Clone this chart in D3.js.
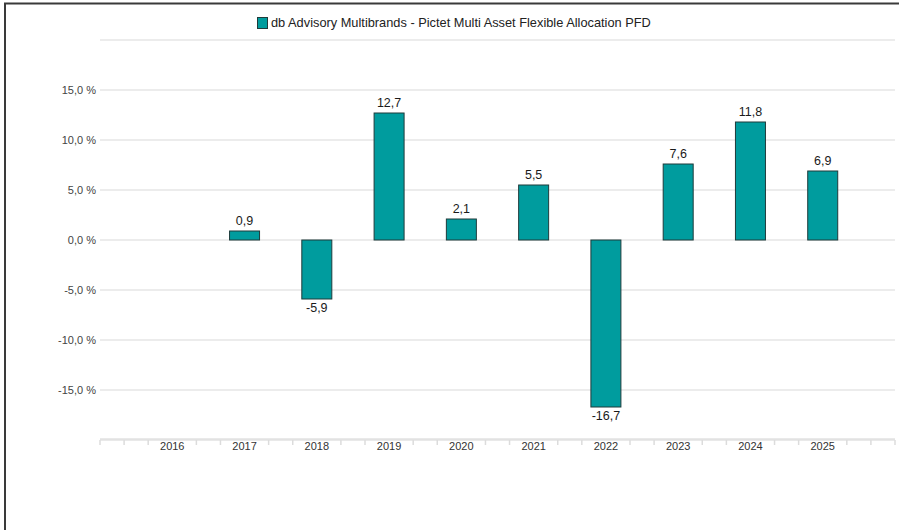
<!DOCTYPE html>
<html>
<head>
<meta charset="utf-8">
<script src="https://cdn.jsdelivr.net/npm/d3@7/dist/d3.min.js"></script>
<style>
  html, body { margin: 0; padding: 0; background: #fff; }
  svg { display: block; font-family: "Liberation Sans", Arial, Helvetica, sans-serif; }
</style>
</head>
<body>
<svg id="chart" width="899" height="530"></svg>
<script>
// chart data
var years = ["2016", "2017", "2018", "2019", "2020", "2021", "2022", "2023", "2024", "2025"];
var returns = [null, 0.9, -5.9, 12.7, 2.1, 5.5, -16.7, 7.6, 11.8, 6.9];
var yTicks = [-15, -10, -5, 0, 5, 10, 15];
var gridTicks = [-15, -10, -5, 0, 5, 10, 15, 20];
var seriesName = "db Advisory Multibrands - Pictet Multi Asset Flexible Allocation PFD";

(function() {
  var teal = "#009c9e";
  var barStroke = "#1f3b3b";

  var svg = d3.select("#chart");

  // outer frame (only left + top edges are visible)
  svg.append("path")
    .attr("d", "M5,530 V3.5 H899")
    .attr("fill", "none")
    .attr("stroke", "#3a3a3a")
    .attr("stroke-width", 2);

  var plotL = 100, plotR = 895, plotT = 40, plotB = 440;
  var step = (plotR - plotL) / (years.length + 1);

  var x = d3.scaleBand()
    .domain(years)
    .range([plotL + step / 2, plotR - step / 2])
    .paddingInner(0).paddingOuter(0);

  var y = d3.scaleLinear().domain([-20, 20]).range([plotB, plotT]);

  // german style: comma decimal, plain hyphen for minus
  var locale = d3.formatLocale({ decimal: ",", thousands: ".", grouping: [3],
                                 currency: ["", " €"], minus: "-" });
  var fmt = locale.format(".1f");
  var cx = function(yr) { return x(yr) + x.bandwidth() / 2; };

  // gridlines
  svg.append("g").selectAll("line").data(gridTicks).enter().append("line")
    .attr("x1", plotL).attr("x2", plotR)
    .attr("y1", function(d) { return y(d); })
    .attr("y2", function(d) { return y(d); })
    .attr("stroke", "#e6e6e6").attr("stroke-width", 1.5);

  // y labels
  svg.append("g").selectAll("text").data(yTicks).enter().append("text")
    .attr("x", 96)
    .attr("y", function(d) { return y(d) + 4; })
    .attr("text-anchor", "end")
    .attr("font-size", 11)
    .attr("fill", "#444")
    .text(function(d) { return fmt(d) + " %"; });

  // x axis line + minor ticks
  svg.append("line")
    .attr("x1", plotL).attr("x2", plotR)
    .attr("y1", plotB - 0.5).attr("y2", plotB - 0.5)
    .attr("stroke", "#e2e2e2").attr("stroke-width", 2.5);

  var minor = d3.range(0, (years.length + 1) * 3 + 1).filter(function(j) {
    return !(j % 3 === 0 && j >= 3 && j <= years.length * 3);
  });
  svg.append("g").selectAll("line").data(minor).enter().append("line")
    .attr("x1", function(j) { return plotL + j * step / 3; })
    .attr("x2", function(j) { return plotL + j * step / 3; })
    .attr("y1", plotB).attr("y2", plotB + 5)
    .attr("stroke", "#dcdcdc").attr("stroke-width", 1.5);

  // x labels
  svg.append("g").selectAll("text").data(years).enter().append("text")
    .attr("x", cx)
    .attr("y", plotB + 10)
    .attr("text-anchor", "middle")
    .attr("font-size", 11)
    .attr("fill", "#333")
    .text(function(d) { return d; });

  // bars
  var data = years.map(function(yr, i) { return { year: yr, v: returns[i] }; })
    .filter(function(d) { return d.v !== null; });
  var barW = 30;

  svg.append("g").selectAll("rect").data(data).enter().append("rect")
    .attr("x", function(d) { return cx(d.year) - barW / 2; })
    .attr("y", function(d) { return Math.min(y(d.v), y(0)); })
    .attr("width", barW)
    .attr("height", function(d) { return Math.abs(y(d.v) - y(0)); })
    .attr("fill", teal)
    .attr("stroke", barStroke)
    .attr("stroke-width", 1);

  // value labels
  svg.append("g").selectAll("text").data(data).enter().append("text")
    .attr("x", function(d) { return cx(d.year); })
    .attr("y", function(d) { return d.v >= 0 ? y(d.v) - 6 : y(d.v) + 13; })
    .attr("text-anchor", "middle")
    .attr("font-size", 12.5)
    .attr("fill", "#1a1a1a")
    .text(function(d) { return fmt(d.v); });

  // legend
  var lg = svg.append("g").attr("transform", "translate(257,17)");
  lg.append("rect")
    .attr("x", 0.5).attr("y", 0.5).attr("width", 10).attr("height", 11)
    .attr("fill", teal).attr("stroke", barStroke).attr("stroke-width", 1);
  lg.append("text")
    .attr("x", 14).attr("y", 10)
    .attr("font-size", 12.8)
    .attr("fill", "#222")
    .text(seriesName);
})();
</script>
</body>
</html>
